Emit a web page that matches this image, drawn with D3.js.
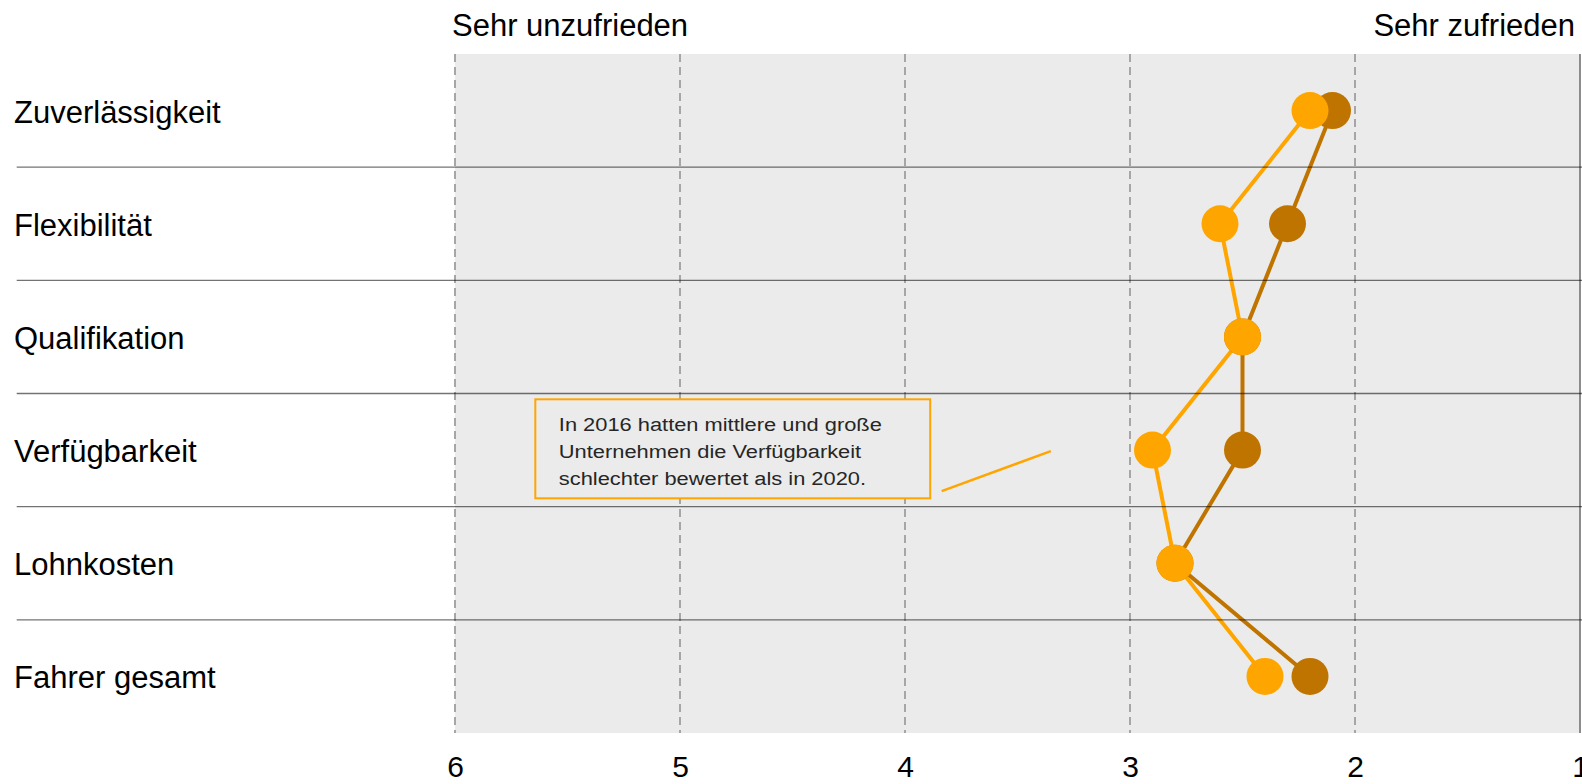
<!DOCTYPE html>
<html>
<head>
<meta charset="utf-8">
<script src="https://cdn.jsdelivr.net/npm/d3@7"></script>
<style>
    body { margin: 0; background: #fff; }
    svg { display: block; font-family: Arial, "Liberation Sans", sans-serif; }
</style>
</head>
<body>
<svg></svg>
<script>
let categories = ["Zuverlässigkeit", "Flexibilität", "Qualifikation", "Verfügbarkeit", "Lohnkosten", "Fahrer gesamt"]
let values2016 = [2.2, 2.6, 2.5, 2.9, 2.8, 2.4]
let values2020 = [2.1, 2.3, 2.5, 2.5, 2.8, 2.2]
let tickValues = [6, 5, 4, 3, 2, 1]
let leftTitle = "Sehr unzufrieden"
let rightTitle = "Sehr zufrieden"
let noteLines = [
    "In 2016 hatten mittlere und große",
    "Unternehmen die Verfügbarkeit",
    "schlechter bewertet als in 2020."
]

let width = 1582
let height = 784
let plotLeft = 455
let plotRight = 1580
let plotTop = 54
let plotBottom = 733

let orange = "#ffa500"
let brown = "#c07400"

let svg = d3.select("svg")
    .attr("width", width)
    .attr("height", height)

let xScale = d3.scaleLinear()
    .domain([6, 1])
    .range([plotLeft, plotRight])

let yScale = d3.scaleBand()
    .domain(categories)
    .range([plotTop, plotBottom])

let rowCenter = (c) => yScale(c) + yScale.bandwidth() / 2

// grey plot area
svg.append("rect")
    .attr("x", plotLeft)
    .attr("y", plotTop)
    .attr("width", plotRight - plotLeft)
    .attr("height", plotBottom - plotTop)
    .attr("fill", "#ebebeb")

// vertical grid lines, the last one solid
svg.selectAll(".grid")
    .data(tickValues)
    .enter()
    .append("line")
    .attr("class", "grid")
    .attr("x1", (d) => xScale(d))
    .attr("x2", (d) => xScale(d))
    .attr("y1", plotTop)
    .attr("y2", plotBottom)
    .attr("stroke", (d) => d === 1 ? "#8c8c8c" : "#a6a6a6")
    .attr("stroke-width", 2)
    .attr("stroke-dasharray", (d) => d === 1 ? null : "8,5")

// bottom axis
let xAxis = d3.axisBottom(xScale)
    .tickValues(tickValues)
    .tickFormat(d3.format("d"))
    .tickSize(0)
    .tickPadding(0)

let axisG = svg.append("g")
    .attr("transform", "translate(0," + 756 + ")")
    .call(xAxis)
axisG.select(".domain").remove()
axisG.selectAll("text")
    .attr("font-size", 30)
    .attr("font-family", "Arial, 'Liberation Sans', sans-serif")
    .attr("fill", "#000")

// titles above the plot
svg.append("text")
    .attr("x", xScale(6) - 3)
    .attr("y", 36)
    .attr("font-size", 31)
    .attr("fill", "#000")
    .text(leftTitle)

svg.append("text")
    .attr("x", xScale(1) - 5)
    .attr("y", 36)
    .attr("text-anchor", "end")
    .attr("font-size", 31)
    .attr("fill", "#000")
    .text(rightTitle)

// category labels
svg.selectAll(".cat")
    .data(categories)
    .enter()
    .append("text")
    .attr("class", "cat")
    .attr("x", 14)
    .attr("y", (d) => rowCenter(d) + 12)
    .attr("font-size", 31)
    .attr("fill", "#000")
    .text((d) => d)

// annotation box
let noteBox = { x0: 5.643, x1: 3.888, top: 399.3, bottom: 498.3 }
svg.append("rect")
    .attr("x", xScale(noteBox.x0))
    .attr("y", noteBox.top)
    .attr("width", xScale(noteBox.x1) - xScale(noteBox.x0))
    .attr("height", noteBox.bottom - noteBox.top)
    .attr("fill", "#ebebeb")
    .attr("stroke", orange)
    .attr("stroke-width", 2)

noteLines.forEach((line, i) => {
    svg.append("text")
        .attr("transform", "translate(" + (xScale(noteBox.x0) + 23.5) + "," + (431 + i * 27) + ") scale(1.15,1)")
        .attr("font-size", 19)
        .attr("fill", "#262626")
        .text(line)
})

let noteRow = rowCenter("Verfügbarkeit")
svg.append("line")
    .attr("x1", xScale(3.837))
    .attr("y1", noteRow + 41)
    .attr("x2", xScale(3.352))
    .attr("y2", noteRow + 1)
    .attr("stroke", orange)
    .attr("stroke-width", 2.5)

// series
let lineGen = d3.line()
    .x((d) => xScale(d[1]))
    .y((d) => rowCenter(d[0]))

let series2016 = categories.map((c, i) => [c, values2016[i]])
let series2020 = categories.map((c, i) => [c, values2020[i]])

svg.append("path")
    .datum(series2016)
    .attr("d", lineGen)
    .attr("fill", "none")
    .attr("stroke", orange)
    .attr("stroke-width", 4)

svg.append("path")
    .datum(series2020)
    .attr("d", lineGen)
    .attr("fill", "none")
    .attr("stroke", brown)
    .attr("stroke-width", 4)

svg.selectAll(".dot2020")
    .data(series2020)
    .enter()
    .append("circle")
    .attr("class", "dot2020")
    .attr("cx", (d) => xScale(d[1]))
    .attr("cy", (d) => rowCenter(d[0]))
    .attr("r", 18.5)
    .attr("fill", brown)

svg.selectAll(".dot2016")
    .data(series2016)
    .enter()
    .append("circle")
    .attr("class", "dot2016")
    .attr("cx", (d) => xScale(d[1]))
    .attr("cy", (d) => rowCenter(d[0]))
    .attr("r", 18.5)
    .attr("fill", orange)

// row separators drawn over everything
svg.selectAll(".sep")
    .data(categories.slice(1))
    .enter()
    .append("line")
    .attr("class", "sep")
    .attr("x1", 16.7)
    .attr("x2", width)
    .attr("y1", (d) => yScale(d))
    .attr("y2", (d) => yScale(d))
    .attr("stroke", "#000")
    .attr("stroke-opacity", 0.55)
    .attr("stroke-width", 1.3)
</script>
</body>
</html>
